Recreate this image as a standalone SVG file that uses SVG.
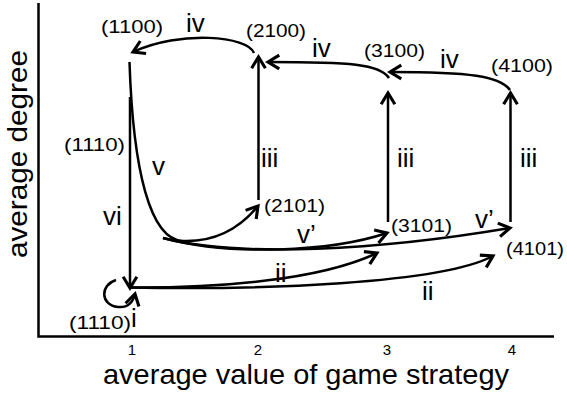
<svg xmlns="http://www.w3.org/2000/svg" width="567" height="393" viewBox="0 0 567 393">
<style>
text{font-family:"Liberation Sans",Arial,sans-serif;fill:#000}
.node{font-size:18px}
.lab{font-size:26px}
.tick{font-size:15px;text-anchor:middle}
.ax{font-size:28px}
.ln{fill:none;stroke:#000;stroke-width:2.5}
.axis{fill:none;stroke:#000;stroke-width:2.5}
</style>
<defs>
<marker id="ah" markerUnits="userSpaceOnUse" markerWidth="20" markerHeight="20" viewBox="-12 -8 14 16" refX="0" refY="0" orient="auto" overflow="visible">
<path d="M-9,-5.5 L0,0 L-9,5.5" fill="none" stroke="#000" stroke-width="2.5" stroke-linejoin="miter"/>
</marker>
</defs>
<rect width="567" height="393" fill="#fff"/>
<g id="axes">
<path class="axis" d="M38.5,3 V336.5 H554"/>
<text class="tick" x="132" y="355">1</text>
<text class="tick" x="258" y="355">2</text>
<text class="tick" x="387" y="355">3</text>
<text class="tick" x="512" y="355">4</text>
<text class="ax" x="103" y="384" textLength="406" lengthAdjust="spacingAndGlyphs">average value of game strategy</text>
<text class="ax" transform="translate(27,258) rotate(-90)" font-size="29" textLength="208" lengthAdjust="spacingAndGlyphs">average degree</text>
</g>
<g id="connectors">
<path class="ln" d="M254,53 C248,36 180,30 133,52" marker-end="url(#ah)"/>
<path class="ln" d="M389,78 C380,64 350,62 268,62" marker-end="url(#ah)"/>
<path class="ln" d="M510,90 C500,76 470,72 390,72" marker-end="url(#ah)"/>
<path class="ln" d="M258.5,200 V57" marker-end="url(#ah)"/>
<path class="ln" d="M388,222 V93" marker-end="url(#ah)"/>
<path class="ln" d="M510.5,222 V93" marker-end="url(#ah)"/>
<path class="ln" d="M129.5,62 C133,170 150,240 183,241 C215,242 240,228 258,206" marker-end="url(#ah)"/>
<path class="ln" d="M130,97 V288" marker-end="url(#ah)"/>
<path class="ln" d="M163,238 C230,256 330,252 387,233" marker-end="url(#ah)"/>
<path class="ln" d="M163,238 C240,258 380,250 510,228" marker-end="url(#ah)"/>
<path class="ln" d="M130,287.5 C220,288 320,280 377,253" marker-end="url(#ah)"/>
<path class="ln" d="M130,287.5 C260,290 440,284 493,256" marker-end="url(#ah)"/>
<path class="ln" d="M116,280 C100,285 100,305 118,307 C128,308 133,302 135,294" marker-end="url(#ah)"/>
<text class="lab" x="186" y="32" font-size="25">iv</text>
<text class="lab" x="312" y="57" font-size="25">iv</text>
<text class="lab" x="440" y="68" font-size="25">iv</text>
<text class="lab" x="152" y="175" font-size="28">v</text>
<text class="lab" x="261" y="167" font-size="30">iii</text>
<text class="lab" x="397" y="167" font-size="30">iii</text>
<text class="lab" x="520" y="167" font-size="30">iii</text>
<text class="lab" x="103" y="225" font-size="25">vi</text>
<text class="lab" x="297" y="243" font-size="24">v’</text>
<text class="lab" x="475" y="228" font-size="24">v’</text>
<text class="lab" x="275" y="282">ii</text>
<text class="lab" x="422" y="300">ii</text>
<text class="lab" x="131" y="327">i</text>
</g>
<g id="n1100"><text class="node" x="101" y="33" textLength="62" lengthAdjust="spacingAndGlyphs">(1100)</text></g>
<g id="n2100"><text class="node" x="246" y="37" textLength="60" lengthAdjust="spacingAndGlyphs">(2100)</text></g>
<g id="n3100"><text class="node" x="364" y="56.5" textLength="61" lengthAdjust="spacingAndGlyphs">(3100)</text></g>
<g id="n4100"><text class="node" x="491" y="71.5" textLength="62" lengthAdjust="spacingAndGlyphs">(4100)</text></g>
<g id="n1110a"><text class="node" x="64" y="151" textLength="61" lengthAdjust="spacingAndGlyphs">(1110)</text></g>
<g id="n2101"><text class="node" x="264" y="211.5" textLength="61" lengthAdjust="spacingAndGlyphs">(2101)</text></g>
<g id="n3101"><text class="node" x="391" y="231.5" textLength="61" lengthAdjust="spacingAndGlyphs">(3101)</text></g>
<g id="n4101"><text class="node" x="506" y="254.5" textLength="58" lengthAdjust="spacingAndGlyphs">(4101)</text></g>
<g id="n1110b"><text class="node" x="69" y="329" textLength="62" lengthAdjust="spacingAndGlyphs">(1110)</text></g>
</svg>
